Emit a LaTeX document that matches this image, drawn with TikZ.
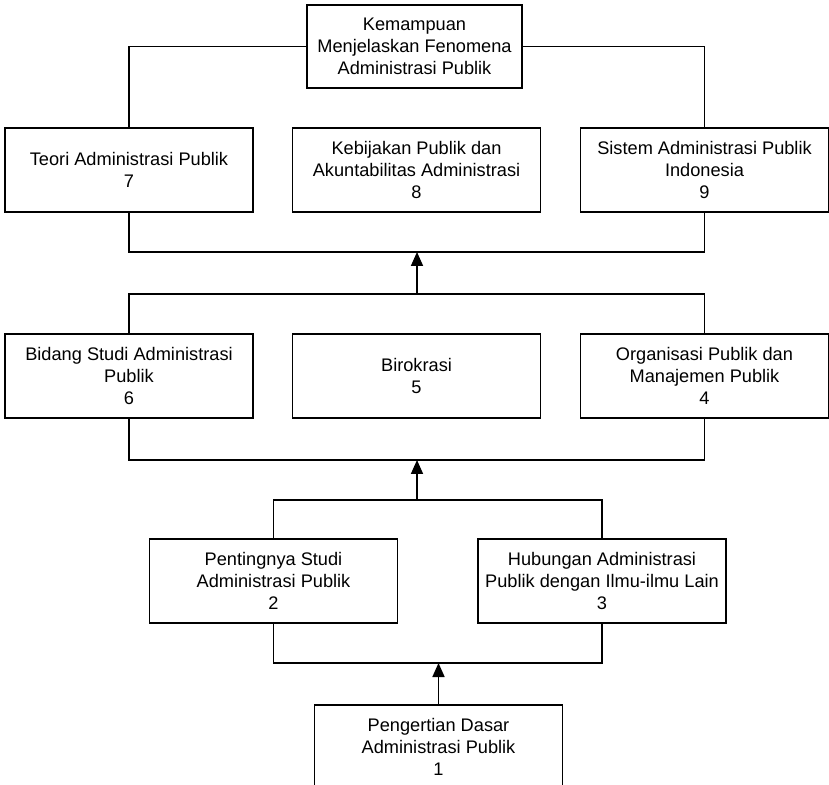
\documentclass[tikz,border=0pt]{standalone}
\usepackage{fontspec}
\setmainfont{Liberation Sans}
\usetikzlibrary{arrows.meta}
\begin{document}
\begin{tikzpicture}
[x=0.5pt,y=-0.5pt,line width=0.85pt,
 box/.style={draw,fill=white,align=center,minimum width=124pt,minimum height=42pt,
   inner sep=1pt,font=\fontsize{9.1}{11}\selectfont},
 up/.style={-{Triangle[width=6pt,length=7pt]}}]
\path[use as bounding box,clip] (0,0) rectangle (829,785);
% goal
\node[box,minimum width=107.5pt,minimum height=41.5pt] (goal) at (414.5,46.5)
  {Kemampuan\\Menjelaskan Fenomena\\Administrasi Publik};
% row 1
\node[box] (m7) at (129,170) {Teori Administrasi Publik\\7};
\node[box] (m8) at (416.5,170) {Kebijakan Publik dan\\Akuntabilitas Administrasi\\8};
\node[box] (m9) at (704.5,170) {Sistem Administrasi Publik\\Indonesia\\9};
% row 2
\node[box] (m6) at (129,376) {Bidang Studi Administrasi\\Publik\\6};
\node[box] (m5) at (416.5,376) {Birokrasi\\5};
\node[box] (m4) at (704.5,376) {Organisasi Publik dan\\Manajemen Publik\\4};
% row 3
\node[box] (m2) at (273.5,581) {Pentingnya Studi\\Administrasi Publik\\2};
\node[box] (m3) at (602,581) {Hubungan Administrasi\\Publik dengan Ilmu-ilmu Lain\\3};
% start
\node[box] (m1) at (438.5,747) {Pengertian Dasar\\Administrasi Publik\\1};
\coordinate (j1) at (417,252);
\coordinate (s2) at (417,294);
\coordinate (j2) at (417,460);
\coordinate (s3) at (417,500);
\coordinate (j3) at (438.5,663);
% connectors
\draw (goal.west) -| (m7.north);
\draw (goal.east) -| (m9.north);
\draw (m7.south) |- (j1) -| (m9.south);
\draw[up] (s2) -- (j1);
\draw (m6.north) |- (s2) -| (m4.north);
\draw (m6.south) |- (j2) -| (m4.south);
\draw[up] (s3) -- (j2);
\draw (m2.north) |- (s3) -| (m3.north);
\draw (m2.south) |- (j3) -| (m3.south);
\draw[up] (m1.north) -- (j3);
\end{tikzpicture}
\end{document}
